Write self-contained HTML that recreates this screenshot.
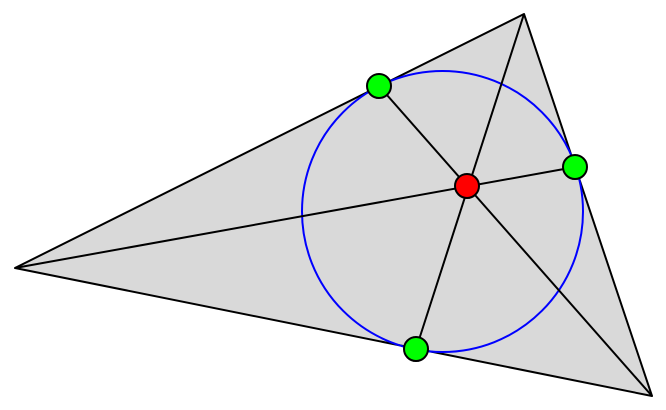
<!DOCTYPE html>
<html><head><meta charset="utf-8"><style>
html,body{margin:0;padding:0;background:#fff;width:666px;height:410px;overflow:hidden}
</style></head><body>
<svg width="666" height="410" viewBox="0 0 666 410" xmlns="http://www.w3.org/2000/svg">
<polygon points="15,268 524,14 652,396" fill="#d9d9d9" stroke="#000" stroke-width="2" stroke-linejoin="round"/>
<circle cx="442.5" cy="211.5" r="140.5" fill="none" stroke="#0000ff" stroke-width="2"/>
<g stroke="#000" stroke-width="2">
<line x1="15" y1="268" x2="575" y2="167"/>
<line x1="524" y1="14" x2="416" y2="349"/>
<line x1="652" y1="396" x2="379" y2="86"/>
</g>
<g stroke="#000" stroke-width="2" fill="#00ff00">
<circle cx="379" cy="86" r="12"/>
<circle cx="575" cy="167" r="12"/>
<circle cx="416" cy="349" r="12"/>
</g>
<circle cx="467" cy="186" r="12" fill="#ff0000" stroke="#000" stroke-width="2"/>
</svg>
</body></html>
